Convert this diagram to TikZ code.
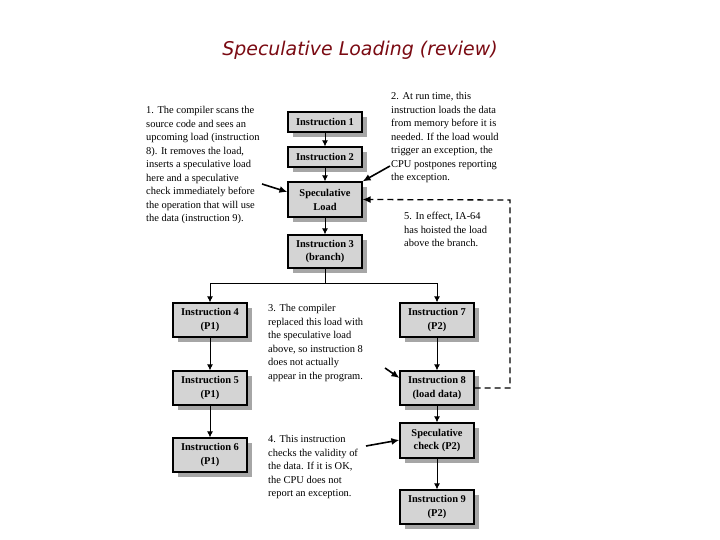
\documentclass[tikz,border=0pt]{standalone}
\usepackage{fontspec}
\usetikzlibrary{shadows,arrows.meta}
\setmainfont{Liberation Serif}
\newfontfamily\titlefont{DejaVu Sans}
\definecolor{boxgray}{HTML}{D4D4D4}
\definecolor{titlered}{HTML}{7A0A12}
\begin{document}
\begin{tikzpicture}[x=1bp,y=-1bp,
  ibox/.style={draw=black,line width=1.2bp,fill=boxgray,minimum width=74bp,align=center,
    font=\fontsize{10.5}{14}\selectfont\bfseries,inner sep=1bp,
    drop shadow={shadow xshift=5bp,shadow yshift=-5bp,fill=gray!70,opacity=1}},
  note/.style={anchor=north west,align=left,inner sep=0pt,font=\fontsize{10.5}{13.6}\selectfont},
  conn/.style={line width=1bp,-{Latex[length=6bp,width=6bp]}},
  callout/.style={line width=1.6bp,-{Latex[length=8bp,width=7bp]}}]
\useasboundingbox (0,0) rectangle (720,540);
\node[font=\titlefont\itshape\fontsize{19}{21}\selectfont,text=titlered] (title) at (360,50) {Speculative Loading (review)};
\node[ibox,minimum height=20bp] (i1) at (325,122) {Instruction 1};
\node[ibox,minimum height=20bp] (i2) at (325,157) {Instruction 2};
\node[ibox,minimum height=35bp] (sl) at (325,199.5) {Speculative\\Load};
\node[ibox,minimum height=33bp] (i3) at (325,251.5) {Instruction 3\\(branch)};
\node[ibox,minimum height=34bp] (i4) at (210,320) {Instruction 4\\(P1)};
\node[ibox,minimum height=34bp] (i5) at (210,388) {Instruction 5\\(P1)};
\node[ibox,minimum height=34bp] (i6) at (210,455) {Instruction 6\\(P1)};
\node[ibox,minimum height=34bp] (i7) at (437,320) {Instruction 7\\(P2)};
\node[ibox,minimum height=34bp] (i8) at (437,388) {Instruction 8\\(load data)};
\node[ibox,minimum height=35bp] (sc) at (437,440.5) {Speculative\\check (P2)};
\node[ibox,minimum height=34bp] (i9) at (437,507) {Instruction 9\\(P2)};
\coordinate (split) at (325,283);
\coordinate (sl1) at (210,283);
\coordinate (sr1) at (437,283);
\draw[conn] (i1) -- (i2);
\draw[conn] (i2) -- (sl);
\draw[conn] (sl) -- (i3);
\draw[line width=1bp] (i3) -- (split) (sl1) -- (sr1);
\draw[conn] (sl1) -- (i4);
\draw[conn] (sr1) -- (i7);
\draw[conn] (i4) -- (i5);
\draw[conn] (i5) -- (i6);
\draw[conn] (i7) -- (i8);
\draw[conn] (i8) -- (sc);
\draw[conn] (sc) -- (i9);
\coordinate (d1) at (510,388);
\coordinate (d2) at (510,200);
\draw[line width=1.3bp,dash pattern=on 6bp off 4bp,-{Latex[length=8bp,width=7bp]}] (i8.east) -- (d1) -- (d2) -- (sl.east);
\node[note] (t1) at (146,106) {1. The compiler scans the\\source code and sees an\\upcoming load (instruction\\8). It removes the load,\\inserts a speculative load\\here and a speculative\\check immediately before\\the operation that will use\\the data (instruction 9).};
\node[note] (t2) at (391,92) {2. At run time, this\\instruction loads the data\\from memory before it is\\needed. If the load would\\trigger an exception, the\\CPU postpones reporting\\the exception.};
\node[note] (t5) at (404,212) {5. In effect, IA-64\\has hoisted the load\\above the branch.};
\node[note] (t3) at (268,304) {3. The compiler\\replaced this load with\\the speculative load\\above, so instruction 8\\does not actually\\appear in the program.};
\node[note] (t4) at (268,435) {4. This instruction\\checks the validity of\\the data. If it is OK,\\the CPU does not\\report an exception.};
\coordinate (a1) at (262,184);
\coordinate (a2) at (390,166);
\coordinate (a3) at (385,368);
\coordinate (a4) at (366,446);
\draw[callout] (a1) -- (sl.west |- 0,192);
\draw[callout] (a2) -- (sl.north east);
\draw[callout] (a3) -- (i8.west |- 0,378);
\draw[callout] (a4) -- (sc.west |- 0,440);
\end{tikzpicture}
\end{document}
